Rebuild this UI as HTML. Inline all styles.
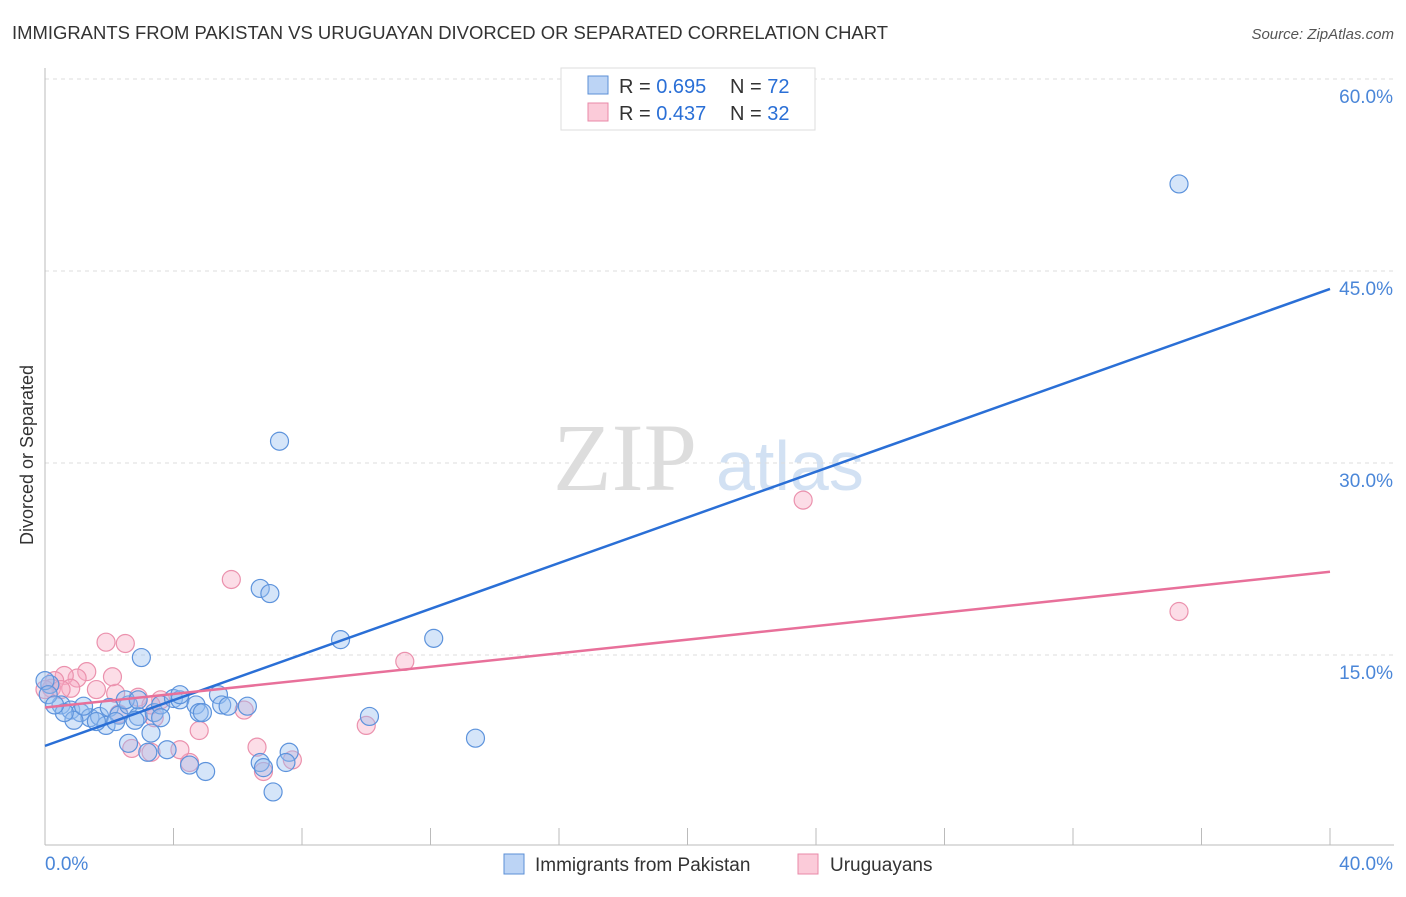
<!DOCTYPE html>
<html><head><meta charset="utf-8"><style>
body{margin:0;background:#fff;font-family:"Liberation Sans",sans-serif}
</style></head><body>
<svg id="chart" width="1406" height="892" xmlns="http://www.w3.org/2000/svg">
<text x="12" y="39" font-size="18" fill="#333" textLength="876" lengthAdjust="spacingAndGlyphs">IMMIGRANTS FROM PAKISTAN VS URUGUAYAN DIVORCED OR SEPARATED CORRELATION CHART</text>
<text x="1394" y="39" font-size="15" fill="#555" font-style="italic" text-anchor="end">Source: ZipAtlas.com</text>
<text x="0" y="0" transform="translate(33,455) rotate(-90)" font-size="18" fill="#333" text-anchor="middle">Divorced or Separated</text>
<g><text x="553" y="490" font-size="96" font-family="Liberation Serif" fill="#ddd">ZIP</text><text x="716" y="490" font-size="70" fill="#d2e1f3">atlas</text></g>
<g id="grid"></g><g id="axes"></g><g id="pts"></g><g id="lines"></g>
<g>
<rect x="561" y="68" width="254" height="62" fill="#fff" stroke="#ddd"/>
<rect x="588" y="76" width="20" height="18" fill="#bcd4f5" stroke="#5b8fd6"/>
<text x="619" y="93" font-size="20" fill="#333">R = <tspan fill="#2a6fd6">0.695</tspan></text>
<text x="730" y="93" font-size="20" fill="#333">N = <tspan fill="#2a6fd6">72</tspan></text>
<rect x="588" y="103" width="20" height="18" fill="#fbcbd9" stroke="#e88aa8"/>
<text x="619" y="120" font-size="20" fill="#333">R = <tspan fill="#2a6fd6">0.437</tspan></text>
<text x="730" y="120" font-size="20" fill="#333">N = <tspan fill="#2a6fd6">32</tspan></text>
</g>
<g>
<rect x="504" y="854" width="20" height="20" fill="#bcd4f5" stroke="#5b8fd6"/>
<text x="535" y="871" font-size="19" fill="#333">Immigrants from Pakistan</text>
<rect x="798" y="854" width="20" height="20" fill="#fbcbd9" stroke="#e88aa8"/>
<text x="830" y="871" font-size="19" fill="#333">Uruguayans</text>
</g>
</svg>
<script>
const yTicks=[15,30,45,60];
const yTickLabels=["15.0%","30.0%","45.0%","60.0%"];
const xTickLabels=["0.0%","40.0%"];
const blueX=[35.3,7.3,6.7,7.0,9.2,12.1,3.0,13.4,10.1,7.1,5.0,4.5,6.7,6.8,7.6,7.5,3.8,3.2,2.6,3.3,0.15,0.5,0.8,1.1,1.4,1.7,2.0,2.3,2.6,2.9,3.4,3.6,4.0,4.2,4.7,4.8,5.4,5.5,5.7,6.3,2.5,1.9,1.6,2.2,2.8,3.6,0.9,0.6,1.2,0.0,0.1,0.3,2.9,4.2,4.9];
const blueY=[51.8,31.7,20.2,19.8,16.2,16.3,14.8,8.5,10.2,4.3,5.9,6.4,6.6,6.2,7.4,6.6,7.6,7.4,8.1,8.9,12.7,11.1,10.7,10.5,10.1,10.2,10.9,10.3,11.1,10.2,10.5,11.1,11.6,11.5,11.1,10.5,11.9,11.1,11.0,11.0,11.5,9.5,9.8,9.8,9.9,10.1,9.9,10.5,11.0,13.0,11.9,11.1,11.5,11.9,10.5];
const pinkX=[35.3,23.6,5.8,1.9,2.5,11.2,10.0,4.8,6.6,6.8,7.7,4.5,4.2,3.3,2.7,6.2,3.6,2.9,2.2,1.6,1.3,1.0,2.1,0.6,0.8,0.3,0.2,0.5,3.4,2.3,0.0,3.3];
const pinkY=[18.4,27.1,20.9,16.0,15.9,14.5,9.5,9.1,7.8,5.9,6.8,6.6,7.6,7.4,7.7,10.7,11.5,11.7,12.0,12.3,13.7,13.2,13.3,13.4,12.4,13.0,12.4,12.3,10.1,10.4,12.3,11.1];
const blueTrend=[7.9,43.6];
const pinkTrend=[10.9,21.5];
const NS="http://www.w3.org/2000/svg";
const sx=v=>45+v/40*1285, sy=v=>847-v*12.8;
function mk(t,a,p){const e=document.createElementNS(NS,t);for(const k in a)e.setAttribute(k,a[k]);document.getElementById(p).appendChild(e);return e;}
yTicks.forEach((t,i)=>{
 const l=mk('line',{x1:45,x2:1394,y1:sy(t),y2:sy(t),stroke:'#ddd','stroke-dasharray':'4,4'},'grid');
 
 
 const tx=mk('text',{x:1393,y:sy(t)+24,'font-size':19,fill:'#4a86d8','text-anchor':'end'},'axes');
 tx.textContent=yTickLabels[i];
 
 
});
const ax=mk('line',{x1:45,x2:45,y1:68,y2:845,stroke:'#bbb'},'axes');


const bx=mk('line',{x1:45,x2:1394,y1:845,y2:845,stroke:'#bbb'},'axes');


for(let i=0;i<=10;i++){const t=mk('line',{x1:sx(i*4),x2:sx(i*4),y1:828,y2:845,stroke:'#bbb'},'axes');
 
 }
[[0,'start',45],[40,'end',1393]].forEach((d,i)=>{const t=mk('text',{x:d[2],y:870,'font-size':19,fill:'#4a86d8','text-anchor':d[1]},'axes');t.textContent=xTickLabels[i];
 
 });
pinkX.forEach((x,i)=>{const c=mk('circle',{cx:sx(x),cy:sy(pinkY[i]),r:9,fill:'rgba(248,170,195,0.4)',stroke:'#eb91ad','stroke-width':1.2},'pts');
 
 });
blueX.forEach((x,i)=>{const c=mk('circle',{cx:sx(x),cy:sy(blueY[i]),r:9,fill:'rgba(150,190,240,0.4)',stroke:'#5d93dc','stroke-width':1.2},'pts');
 
 });
const b=mk('line',{x1:sx(0),y1:sy(blueTrend[0]),x2:sx(40),y2:sy(blueTrend[1]),stroke:'#2a6fd6','stroke-width':2.5},'lines');


const p=mk('line',{x1:sx(0),y1:sy(pinkTrend[0]),x2:sx(40),y2:sy(pinkTrend[1]),stroke:'#e8709a','stroke-width':2.5},'lines');


</script>
</body></html>
